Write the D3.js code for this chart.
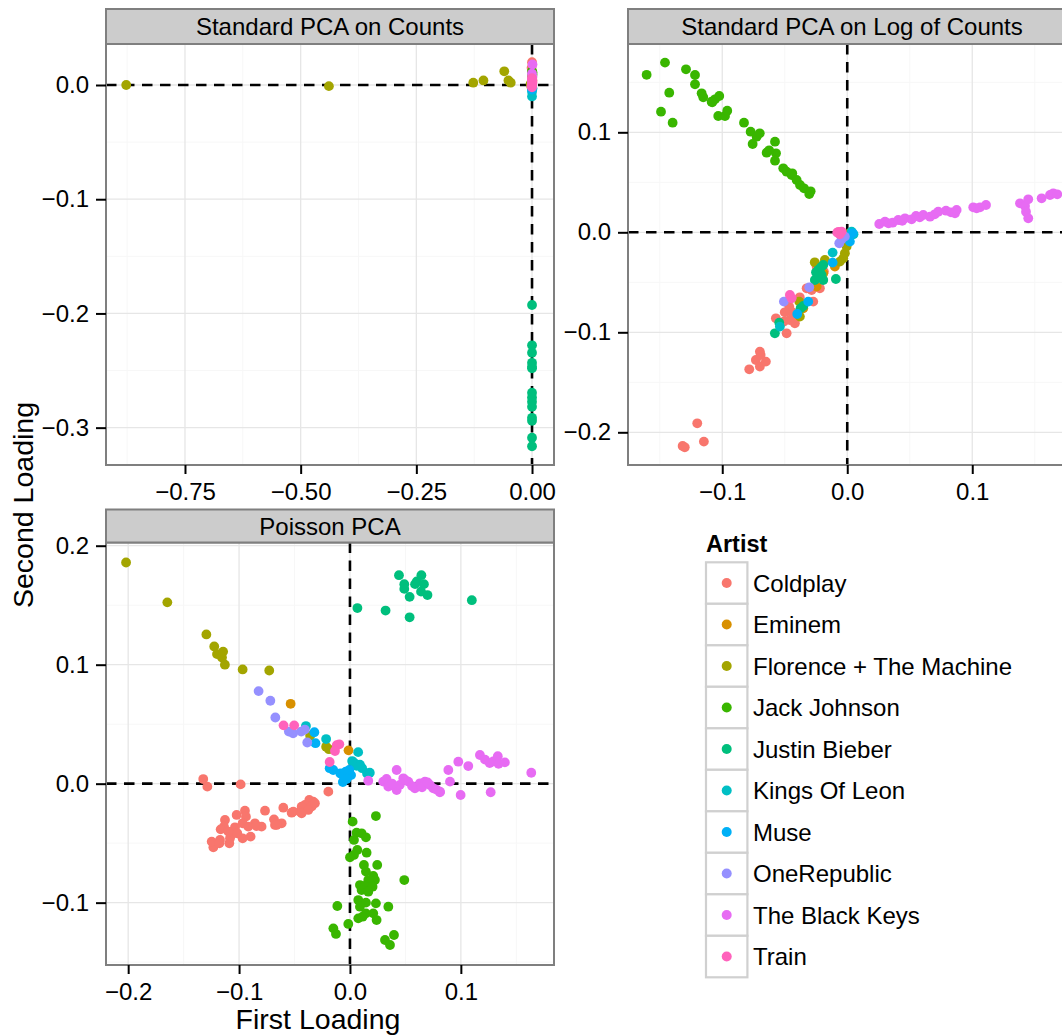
<!DOCTYPE html>
<meta charset="utf-8">
<style>

body { margin: 0; background: #fff; }
svg { font-family: "Liberation Sans", Arial, sans-serif; }

.grid-major { stroke: #e6e6e6; stroke-width: 1.3px; }
.grid-minor { stroke: #f7f7f7; stroke-width: 1px; }
.zero { stroke: #000; stroke-width: 2.6px; stroke-dasharray: 10.5 7.5; fill: none; }
.border { fill: none; stroke: #7f7f7f; stroke-width: 2px; }
.strip { fill: #cccccc; stroke: #7f7f7f; stroke-width: 2px; }
.axis line { stroke: #000; stroke-width: 2px; }
.axis text { font-size: 24px; fill: #000; }
.strip-text { font-size: 24px; fill: #000; }
.title { font-size: 28.5px; fill: #000; }

</style>
<svg width="1062" height="1036"></svg>

<script src="https://d3js.org/d3.v7.min.js"></script>
<script type="text/javascript">

var artists = ["Coldplay", "Eminem", "Florence + The Machine", "Jack Johnson", "Justin Bieber",
               "Kings Of Leon", "Muse", "OneRepublic", "The Black Keys", "Train"];
var codes   = ["CP", "EM", "FL", "JJ", "JB", "KL", "MU", "OR", "BK", "TR"];
var palette = ["#F8766D", "#D89000", "#A3A500", "#39B600", "#00BF7D",
               "#00BFC4", "#00B0F6", "#9590FF", "#E76BF3", "#FF62BC"];

// Standard PCA on Counts : [artist, first loading, second loading]
var countsPts = [
  ["CP",0,0.020],["CP",-0.001,0.015],["CP",0,0.008],["CP",0.001,0.004],["CP",0,0.001],["CP",0,-0.002],
  ["EM",0,0.003],["EM",0,-0.001],
  ["FL",-0.877,0.0],["FL",-0.439,-0.001],["FL",-0.127,0.002],["FL",-0.105,0.004],["FL",-0.060,0.012],
  ["FL",-0.051,0.004],["FL",-0.046,0.002],["FL",-0.003,0.001],["FL",0,0.003],["FL",-0.001,-0.002],
  ["JJ",0,0.012],["JJ",0.001,0.009],["JJ",0,0.006],["JJ",0.001,0.011],["JJ",0,0.003],
  ["JB",0,-0.1926],["JB",0,-0.2279],["JB",0,-0.2344],["JB",0,-0.2432],["JB",0,-0.2467],["JB",0,-0.2481],
  ["JB",0,-0.2694],["JB",0,-0.2735],["JB",0,-0.2773],["JB",0,-0.2817],["JB",0,-0.2914],["JB",0,-0.2940],
  ["JB",0,-0.3088],["JB",0,-0.3163],
  ["KL",0,-0.010],["KL",0,-0.006],["KL",0.001,-0.003],
  ["MU",0,-0.004],["MU",0,0.0],
  ["OR",0,0.002],["OR",0,-0.001],
  ["BK",0.001,0.018],["BK",0,0.010],["BK",0.001,0.007],["BK",0,0.005],
  ["TR",0,0.004],["TR",0,0.0],["TR",0,-0.002],["TR",0.001,0.002],["TR",0,0.006],["TR",-0.001,-0.001]
];

// Standard PCA on Log of Counts
var logPts = [
  ["CP",-0.1317,-0.2137],["CP",-0.1300,-0.2150],["CP",-0.120,-0.191],["CP",-0.1147,-0.2093],
  ["CP",-0.0784,-0.137],["CP",-0.0731,-0.1277],["CP",-0.0699,-0.1343],["CP",-0.0699,-0.1193],
  ["CP",-0.0651,-0.1293],["CP",-0.0693,-0.1227],["CP",-0.0571,-0.086],["CP",-0.0485,-0.101],
  ["CP",-0.0507,-0.0893],["CP",-0.0459,-0.0877],["CP",-0.0432,-0.0827],["CP",-0.0419,-0.091],
  ["CP",-0.0464,-0.0743],["CP",-0.0445,-0.0793],["CP",-0.0325,-0.056],["CP",-0.0272,-0.0693],
  ["CP",-0.0285,-0.0577],["CP",-0.0219,-0.056],["CP",-0.0245,-0.0343],["CP",-0.0224,-0.0443],
  ["CP",-0.0187,-0.0393],["CP",-0.0500,-0.0800],["CP",-0.0380,-0.0650],
  ["EM",-0.0245,-0.0543],["EM",-0.0192,-0.041],["EM",-0.0099,-0.0343],["EM",-0.0352,-0.076],
  ["FL",-0.0384,-0.0693],["FL",-0.0379,-0.0843],["FL",-0.0179,-0.0277],["FL",-0.0032,-0.026],
  ["FL",-0.0019,-0.021],["FL",-0.0005,-0.0143],["FL",0.0008,-0.0093],["FL",-0.0059,-0.0293],
  ["FL",0.0016,-0.001],["FL",-0.0260,-0.0300],
  ["JJ",-0.1605,0.1575],["JJ",-0.1458,0.1697],["JJ",-0.1424,0.1396],["JJ",-0.149,0.1206],
  ["JJ",-0.1397,0.1096],["JJ",-0.129,0.163],["JJ",-0.1218,0.1573],["JJ",-0.1218,0.148],
  ["JJ",-0.1165,0.139],["JJ",-0.1152,0.135],["JJ",-0.1085,0.1306],["JJ",-0.1058,0.133],
  ["JJ",-0.1024,0.1363],["JJ",-0.1032,0.1163],["JJ",-0.0978,0.1163],["JJ",-0.096,0.1216],
  ["JJ",-0.0826,0.1096],["JJ",-0.0773,0.1006],["JJ",-0.0725,0.0956],["JJ",-0.0757,0.0883],
  ["JJ",-0.0578,0.0906],["JJ",-0.0645,0.0796],["JJ",-0.057,0.079],["JJ",-0.0578,0.0716],
  ["JJ",-0.0512,0.064],["JJ",-0.0485,0.0606],["JJ",-0.0445,0.0573],["JJ",-0.0405,0.0523],
  ["JJ",-0.0378,0.0473],["JJ",-0.0346,0.044],["JJ",-0.0304,0.0383],["JJ",-0.0293,0.041],
  ["JJ",-0.0625,0.0820],["JJ",-0.0440,0.0590],["JJ",-0.0700,0.0990],["JJ",-0.1080,0.1300],
  ["JB",-0.0579,-0.101],["JB",-0.0544,-0.0903],["JB",-0.0352,-0.0737],["JB",-0.0373,-0.076],
  ["JB",-0.0259,-0.0477],["JB",-0.0219,-0.041],["JB",-0.0192,-0.0327],["JB",-0.0232,-0.0377],
  ["JB",-0.0192,-0.0477],["JB",-0.0091,-0.0467],["JB",-0.0205,-0.0427],["JB",-0.0250,-0.0400],
  ["JB",-0.0210,-0.0350],
  ["KL",-0.0539,-0.0943],["KL",-0.0117,-0.0203],["KL",0.0035,0.0007],["KL",0.0016,-0.0043],["KL",0.0050,-0.0020],
  ["MU",-0.04,-0.0817],["MU",-0.0312,-0.0693],["MU",-0.0117,-0.0303],["MU",0.0021,-0.0093],["MU",0.0043,-0.001],
  ["OR",-0.0507,-0.0693],["OR",-0.0304,-0.055],["OR",-0.0064,-0.011],["OR",-0.0045,-0.007],["OR",-0.0019,-0.0043],
  ["BK",0.0256,0.0083],["BK",0.0302,0.0106],["BK",0.0330,0.0090],["BK",0.0363,0.0096],["BK",0.0408,0.0123],
  ["BK",0.0440,0.0115],["BK",0.0462,0.014],["BK",0.0515,0.013],["BK",0.055,0.0163],["BK",0.0580,0.0150],
  ["BK",0.0608,0.0173],["BK",0.0662,0.0156],["BK",0.0700,0.0180],["BK",0.0728,0.0206],["BK",0.079,0.0216],
  ["BK",0.0830,0.0200],["BK",0.0862,0.019],["BK",0.0875,0.0223],["BK",0.1008,0.025],["BK",0.1035,0.0240],
  ["BK",0.1062,0.025],["BK",0.111,0.0273],["BK",0.1382,0.029],["BK",0.1422,0.0263],["BK",0.1448,0.033],
  ["BK",0.143,0.0206],["BK",0.1448,0.014],["BK",0.1555,0.034],["BK",0.1622,0.0373],["BK",0.1648,0.039],
  ["BK",0.1680,0.0380],
  ["TR",-0.0459,-0.0627],["TR",-0.0445,-0.066],["TR",-0.008,-0.0003],["TR",-0.0070,0.0005],
  ["TR",-0.0045,0.0007],["TR",-0.0060,-0.0020]
];

// Poisson PCA
var poissonPts = [
  ["CP",-0.1323,0.0039],["CP",-0.1286,-0.0025],["CP",-0.0986,-0.0006],["CP",-0.0195,-0.0067],
  ["CP",-0.0331,-0.0151],["CP",-0.0367,-0.0137],["CP",-0.0406,-0.0179],["CP",-0.0436,-0.0193],
  ["CP",-0.0451,-0.0235],["CP",-0.0346,-0.0193],["CP",-0.0376,-0.0221],["CP",-0.0526,-0.0244],
  ["CP",-0.0601,-0.0202],["CP",-0.0616,-0.0333],["CP",-0.0676,-0.0347],["CP",-0.0685,-0.03],
  ["CP",-0.0766,-0.0227],["CP",-0.0797,-0.0361],["CP",-0.0857,-0.0333],["CP",-0.0896,-0.0445],
  ["CP",-0.0947,-0.0227],["CP",-0.0938,-0.0277],["CP",-0.0968,-0.0459],["CP",-0.0968,-0.0333],
  ["CP",-0.1022,-0.0263],["CP",-0.1037,-0.0367],["CP",-0.1052,-0.0417],["CP",-0.1088,-0.0501],
  ["CP",-0.1127,-0.0305],["CP",-0.1136,-0.0361],["CP",-0.1166,-0.0384],["CP",-0.1172,-0.0473],
  ["CP",-0.1232,-0.0535],["CP",-0.1247,-0.0487],["CP",-0.1178,-0.0501],["CP",-0.1082,-0.0459],
  ["CP",-0.0917,-0.0361],["CP",-0.0842,-0.0356],["CP",-0.0661,-0.0347],["CP",-0.0511,-0.0235],
  ["CP",-0.0316,-0.0165],["CP",-0.0436,-0.0249],["CP",-0.1016,-0.0417],["CP",-0.1097,-0.0403],
  ["EM",-0.0535,0.0671],["EM",-0.0013,0.028],
  ["FL",-0.2019,0.1859],["FL",-0.1647,0.1524],["FL",-0.1295,0.1254],["FL",-0.1224,0.1153],
  ["FL",-0.1199,0.1089],["FL",-0.1144,0.111],["FL",-0.1154,0.106],["FL",-0.1128,0.1],
  ["FL",-0.0968,0.096],["FL",-0.0728,0.0951],["FL",-0.0359,0.0403],["FL",-0.0215,0.0311],["FL",-0.0190,0.0290],
  ["JJ",0.0234,-0.0272],["JJ",0.0024,-0.0319],["JJ",0.006,-0.0412],["JJ",0.0105,-0.0417],
  ["JJ",0.0144,-0.0451],["JJ",0.0036,-0.0473],["JJ",0.0066,-0.0557],["JJ",0.015,-0.058],
  ["JJ",0.0,-0.0619],["JJ",0.0036,-0.0599],["JJ",0.0126,-0.0683],["JJ",0.0246,-0.0683],
  ["JJ",0.0144,-0.0739],["JJ",0.021,-0.0776],["JJ",0.0225,-0.081],["JJ",0.0165,-0.081],
  ["JJ",0.009,-0.0852],["JJ",0.0135,-0.086],["JJ",0.0204,-0.0866],["JJ",0.0105,-0.0894],
  ["JJ",0.0165,-0.0908],["JJ",0.049,-0.081],["JJ",0.0075,-0.0978],["JJ",0.0144,-0.1],
  ["JJ",0.0234,-0.1006],["JJ",0.0346,-0.1034],["JJ",-0.0114,-0.1028],["JJ",0.009,-0.1034],
  ["JJ",0.021,-0.109],["JJ",0.0144,-0.109],["JJ",0.0075,-0.1132],["JJ",0.024,-0.1146],
  ["JJ",0.0114,-0.1118],["JJ",-0.0015,-0.1179],["JJ",-0.015,-0.1216],["JJ",-0.0126,-0.1263],
  ["JJ",0.0316,-0.1314],["JJ",0.0397,-0.1272],["JJ",0.0361,-0.1356],
  ["JB",0.0442,0.1752],["JB",0.049,0.1677],["JB",0.049,0.1637],["JB",0.0538,0.157],
  ["JB",0.0587,0.1677],["JB",0.0603,0.17],["JB",0.0644,0.1752],["JB",0.0667,0.1677],
  ["JB",0.0641,0.1614],["JB",0.0699,0.1585],["JB",0.0067,0.1476],["JB",0.0321,0.1455],
  ["JB",0.0538,0.1398],["JB",0.1099,0.1542],
  ["KL",-0.0397,0.0484],["KL",-0.0215,0.0375],["KL",0.0074,0.0265],["KL",0.0042,0.0173],
  ["KL",0.009,0.0159],["KL",0.0154,0.0086],["KL",0.0179,0.0092],["KL",0.0110,0.0130],
  ["KL",0.0060,0.0150],["KL",0.0020,0.0190],
  ["MU",-0.0321,0.0432],["MU",-0.0311,0.034],["MU",-0.0183,0.013],["MU",-0.0151,0.0115],
  ["MU",-0.0087,0.0086],["MU",-0.0064,0.0014],["MU",-0.0038,0.0101],["MU",0.001,0.0072],
  ["MU",-0.0054,0.0058],["MU",-0.0006,0.0115],["MU",-0.0030,0.0040],
  ["OR",-0.0824,0.0778],["OR",-0.0718,0.0697],["OR",-0.0673,0.0556],["OR",-0.0551,0.0438],
  ["OR",-0.0513,0.0424],["OR",-0.0439,0.0438],["OR",-0.0407,0.0455],["OR",-0.0385,0.0346],
  ["BK",0.0165,0.0025],["BK",0.03,0.0017],["BK",0.0346,-0.0025],["BK",0.0421,0.0115],
  ["BK",0.0421,-0.0053],["BK",0.0481,0.0045],["BK",0.0526,0.0017],["BK",0.0586,-0.0039],
  ["BK",0.0631,0.0003],["BK",0.0676,0.0017],["BK",0.0721,-0.0011],["BK",0.0751,-0.0039],
  ["BK",0.0812,-0.0067],["BK",0.0887,0.0115],["BK",0.0902,0.0017],["BK",0.0977,0.0185],
  ["BK",0.0998,-0.0095],["BK",0.1067,0.0148],["BK",0.1172,0.0241],["BK",0.1218,0.0202],
  ["BK",0.126,0.0173],["BK",0.1292,0.0187],["BK",0.1333,0.0231],["BK",0.134,0.0167],
  ["BK",0.1397,0.0179],["BK",0.1269,-0.0072],["BK",0.1635,0.0092],["BK",0.0811,-0.0072],
  ["BK",0.0330,0.0040],["BK",0.0380,0.0000],["BK",0.0450,-0.0010],["BK",0.0500,0.0030],
  ["BK",0.0560,-0.0020],["BK",0.0650,-0.0030],["BK",0.0700,0.0010],["BK",0.0780,-0.0050],
  ["TR",-0.0599,0.049],["TR",-0.0503,0.049],["TR",-0.0119,0.0323],["TR",-0.0096,0.0331],
  ["TR",-0.0135,0.0274],["TR",-0.0183,0.0182]
];

var countsXTicks = [-0.75, -0.5, -0.25, 0],  countsYTicks = [0, -0.1, -0.2, -0.3];
var logXTicks = [-0.1, 0, 0.1],              logYTicks = [0.1, 0, -0.1, -0.2];
var poissonXTicks = [-0.2, -0.1, 0, 0.1],    poissonYTicks = [0.2, 0.1, 0, -0.1];

var panels = [
  { title: "Standard PCA on Counts", pts: countsPts,
    xDomain: [-0.9207, 0.0475], yDomain: [-0.3327, 0.0359],
    xTicks: countsXTicks, yTicks: countsYTicks, xFmt: ".2f",
    x0: 106, x1: 554, stripTop: 9, y0: 44, y1: 465 },
  { title: "Standard PCA on Log of Counts", pts: logPts,
    xDomain: [-0.1754, 0.183], yDomain: [-0.2327, 0.1883],
    xTicks: logXTicks, yTicks: logYTicks, xFmt: ".1f",
    x0: 628, x1: 1076, stripTop: 9, y0: 44, y1: 465 },
  { title: "Poisson PCA", pts: poissonPts,
    xDomain: [-0.22, 0.184], yDomain: [-0.1524, 0.2027],
    xTicks: poissonXTicks, yTicks: poissonYTicks, xFmt: ".1f",
    x0: 106, x1: 554, stripTop: 509.5, y0: 542.5, y1: 965 }
];

var color = d3.scaleOrdinal().domain(codes).range(palette);
var svg = d3.select("svg");

// halfway gridlines between the major ticks
function minors(ticks, domain) {
  var step = Math.abs(ticks[1] - ticks[0]),
      lo = d3.min(ticks), out = [];
  for (var v = lo - step * 1.5; v <= d3.max(ticks) + step * 1.5; v += step) {
    if (v >= domain[0] && v <= domain[1]) out.push(v);
  }
  return out;
}

panels.forEach(function(p, i) {
  var x = d3.scaleLinear().domain(p.xDomain).range([p.x0, p.x1]),
      y = d3.scaleLinear().domain(p.yDomain).range([p.y1, p.y0]);

  var g = svg.append("g");
  g.append("clipPath").attr("id", "clip" + i)
    .append("rect").attr("x", p.x0).attr("y", p.y0)
    .attr("width", p.x1 - p.x0).attr("height", p.y1 - p.y0);

  var body = g.append("g").attr("clip-path", "url(#clip" + i + ")");
  body.append("rect").attr("x", p.x0).attr("y", p.y0)
    .attr("width", p.x1 - p.x0).attr("height", p.y1 - p.y0).attr("fill", "#fff");

  body.selectAll(".gx-minor").data(minors(p.xTicks, p.xDomain)).enter().append("line")
    .attr("class", "grid-minor").attr("x1", x).attr("x2", x).attr("y1", p.y0).attr("y2", p.y1);
  body.selectAll(".gy-minor").data(minors(p.yTicks, p.yDomain)).enter().append("line")
    .attr("class", "grid-minor").attr("y1", y).attr("y2", y).attr("x1", p.x0).attr("x2", p.x1);
  body.selectAll(".gx").data(p.xTicks).enter().append("line")
    .attr("class", "grid-major").attr("x1", x).attr("x2", x).attr("y1", p.y0).attr("y2", p.y1);
  body.selectAll(".gy").data(p.yTicks).enter().append("line")
    .attr("class", "grid-major").attr("y1", y).attr("y2", y).attr("x1", p.x0).attr("x2", p.x1);

  body.append("line").attr("class", "zero")
    .attr("x1", p.x0).attr("x2", p.x1).attr("y1", y(0)).attr("y2", y(0));
  body.append("line").attr("class", "zero")
    .attr("x1", x(0)).attr("x2", x(0)).attr("y1", p.y0).attr("y2", p.y1);

  var sorted = p.pts.slice().sort(function(a, b) { return codes.indexOf(a[0]) - codes.indexOf(b[0]); });
  body.selectAll("circle").data(sorted).enter().append("circle")
    .attr("cx", function(d) { return x(d[1]); })
    .attr("cy", function(d) { return y(d[2]); })
    .attr("r", 4.9)
    .attr("fill", function(d) { return color(d[0]); });

  g.append("rect").attr("class", "border").attr("x", p.x0).attr("y", p.y0)
    .attr("width", p.x1 - p.x0).attr("height", p.y1 - p.y0);

  g.append("rect").attr("class", "strip").attr("x", p.x0).attr("y", p.stripTop)
    .attr("width", p.x1 - p.x0).attr("height", p.y0 - p.stripTop);
  g.append("text").attr("class", "strip-text")
    .attr("x", (p.x0 + p.x1) / 2).attr("y", (p.stripTop + p.y0) / 2 + 8.6)
    .attr("text-anchor", "middle").text(p.title);

  g.append("g").attr("class", "axis").attr("transform", "translate(0," + p.y1 + ")")
    .call(d3.axisBottom(x).tickValues(p.xTicks).tickSize(9).tickPadding(9)
      .tickFormat(d3.format(p.xFmt)))
    .call(function(a) { a.select(".domain").remove(); a.selectAll("text").attr("font-size", null).attr("font-family", null); });

  g.append("g").attr("class", "axis").attr("transform", "translate(" + p.x0 + ",0)")
    .call(d3.axisLeft(y).tickValues(p.yTicks).tickSize(10).tickPadding(7)
      .tickFormat(d3.format(".1f")))
    .call(function(a) { a.select(".domain").remove(); a.selectAll("text").attr("font-size", null).attr("font-family", null); });
});

// axis titles
svg.append("text").attr("class", "title").attr("x", 318).attr("y", 1029)
  .attr("text-anchor", "middle").text("First Loading");
svg.append("text").attr("class", "title").attr("text-anchor", "middle")
  .attr("transform", "translate(33,505) rotate(-90)").text("Second Loading");

// legend
var legend = svg.append("g").attr("transform", "translate(706,0)");
legend.append("text").attr("x", 0).attr("y", 551.7)
  .attr("font-size", "23.5px").attr("font-weight", "bold").text("Artist");

var keyTop = 562.3, keyH = 41.5, keyW = 41.4;
var rows = legend.selectAll(".key").data(artists).enter().append("g")
  .attr("transform", function(d, i) { return "translate(0," + (keyTop + i * keyH) + ")"; });
rows.append("rect").attr("x", 0).attr("y", 0).attr("width", keyW).attr("height", keyH)
  .attr("fill", "#fff").attr("stroke", "#d0d0d0").attr("stroke-width", 2.2);
rows.append("circle").attr("cx", keyW / 2).attr("cy", keyH / 2).attr("r", 5)
  .attr("fill", function(d, i) { return palette[i]; });
rows.append("text").attr("x", 47).attr("y", keyH / 2 + 8.6)
  .attr("font-size", "24px").text(function(d) { return d; });

</script>
